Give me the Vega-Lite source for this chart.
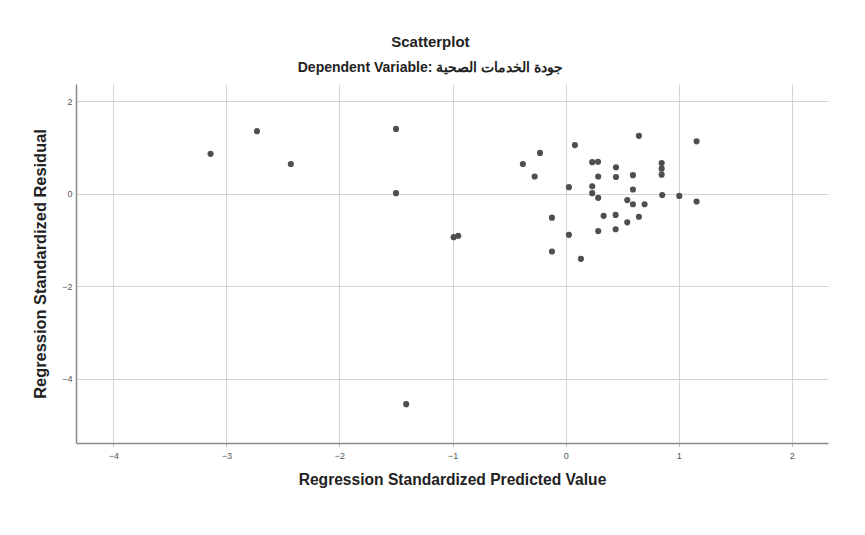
{
  "$schema": "https://vega.github.io/schema/vega-lite/v6.json",
  "autosize": {"type": "none"},
  "width": 752,
  "height": 359,
  "padding": {"left": 76, "top": 84, "right": 37, "bottom": 92},
  "background": "white",
  "title": {
    "text": "Scatterplot",
    "subtitle": "Dependent Variable: جودة الخدمات الصحية",
    "anchor": "middle",
    "frame": "bounds",
    "font": "Liberation Sans",
    "fontSize": 15,
    "fontWeight": "bold",
    "color": "#222",
    "subtitleFont": "Liberation Sans",
    "subtitleFontSize": 14,
    "subtitleFontWeight": "bold",
    "subtitleColor": "#222",
    "subtitlePadding": 11,
    "offset": 9
  },
  "data": {
    "values": [
      {"x": -3.14, "y": 0.86},
      {"x": -2.73, "y": 1.35},
      {"x": -2.43, "y": 0.64},
      {"x": -1.50, "y": 1.40},
      {"x": -1.50, "y": 0.01},
      {"x": -1.41, "y": -4.55},
      {"x": -0.99, "y": -0.94},
      {"x": -0.95, "y": -0.91},
      {"x": 0.648, "y": 1.25},
      {"x": 1.158, "y": 1.13},
      {"x": 0.082, "y": 1.05},
      {"x": -0.227, "y": 0.88},
      {"x": -0.378, "y": 0.64},
      {"x": -0.274, "y": 0.37},
      {"x": 0.235, "y": 0.68},
      {"x": 0.286, "y": 0.69},
      {"x": 0.445, "y": 0.57},
      {"x": 0.445, "y": 0.36},
      {"x": 0.288, "y": 0.37},
      {"x": 0.595, "y": 0.40},
      {"x": 0.849, "y": 0.66},
      {"x": 0.849, "y": 0.54},
      {"x": 0.849, "y": 0.41},
      {"x": 0.029, "y": 0.14},
      {"x": 0.235, "y": 0.16},
      {"x": 0.235, "y": 0.01},
      {"x": 0.288, "y": -0.09},
      {"x": 0.595, "y": 0.09},
      {"x": 0.854, "y": -0.03},
      {"x": 1.005, "y": -0.05},
      {"x": 1.158, "y": -0.17},
      {"x": 0.545, "y": -0.14},
      {"x": 0.595, "y": -0.23},
      {"x": 0.698, "y": -0.23},
      {"x": 0.336, "y": -0.48},
      {"x": 0.442, "y": -0.46},
      {"x": 0.648, "y": -0.50},
      {"x": 0.545, "y": -0.62},
      {"x": 0.288, "y": -0.81},
      {"x": 0.442, "y": -0.77},
      {"x": -0.121, "y": -0.52},
      {"x": 0.029, "y": -0.89},
      {"x": -0.121, "y": -1.25},
      {"x": 0.135, "y": -1.41}
    ]
  },
  "mark": {"type": "circle", "size": 38, "color": "#4f4f4f", "opacity": 1},
  "encoding": {
    "x": {
      "field": "x",
      "type": "quantitative",
      "title": "Regression Standardized Predicted Value",
      "scale": {"domain": [-4.33, 2.32], "nice": false, "zero": false},
      "axis": {"values": [-4, -3, -2, -1, 0, 1, 2]}
    },
    "y": {
      "field": "y",
      "type": "quantitative",
      "title": "Regression Standardized Residual",
      "scale": {"domain": [-5.39, 2.37], "nice": false, "zero": false},
      "axis": {"values": [-4, -2, 0, 2]}
    }
  },
  "config": {
    "view": {"stroke": null},
    "axis": {
      "grid": true,
      "gridColor": "#d4d4d4",
      "gridWidth": 1,
      "domainColor": "#8a8a8a",
      "domainWidth": 1.5,
      "tickColor": "#b0b0b0",
      "tickSize": 3,
      "labelFont": "Liberation Sans",
      "labelFontSize": 9,
      "labelColor": "#555",
      "labelPadding": 4,
      "titleFont": "Liberation Sans",
      "titleFontWeight": "bold",
      "titleColor": "#222"
    },
    "axisX": {"titlePadding": 12, "labelPadding": 5, "titleFontSize": 15.6},
    "axisY": {"titlePadding": 13, "ticks": false, "titleFontSize": 16.4}
  }
}
